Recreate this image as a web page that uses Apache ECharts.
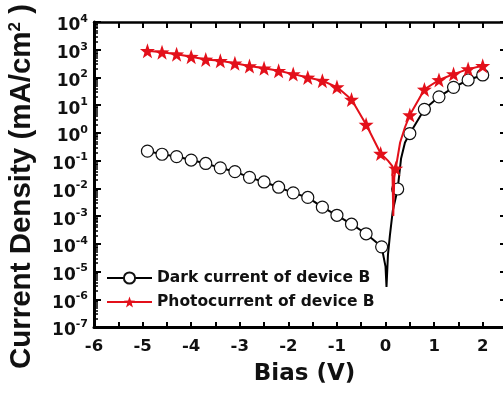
<!DOCTYPE html>
<html>
<head>
<meta charset="utf-8">
<script src="https://cdn.jsdelivr.net/npm/echarts@6/dist/echarts.min.js"></script>
<style>
  html, body { margin: 0; padding: 0; background: #fff; }
  #chart { width: 503px; height: 394px; }
</style>
</head>
<body>
<div id="chart"></div>
<script>
// dark current, marker points (V, mA/cm2)
var darkBias = [-4.9, -4.6, -4.3, -4.0, -3.7, -3.4, -3.1, -2.8, -2.5, -2.2, -1.9, -1.6,
  -1.3, -1.0, -0.7, -0.4, -0.08, 0.25, 0.5, 0.8, 1.1, 1.4, 1.7, 2.0];
var darkCurrent = [0.22, 0.17, 0.14, 0.105, 0.079, 0.055, 0.04, 0.025, 0.017, 0.011, 0.0069, 0.0047,
  0.0021, 0.00107, 0.00051, 0.00023, 0.000078, 0.0095, 0.95, 7.1, 20, 44, 81, 123];
// extra line points around the dip (no marker)
var darkDipBias = [0.0, 0.02, 0.05, 0.09, 0.15, 0.32, 0.4];
var darkDipCurrent = [0.000015, 0.0000028, 0.00004, 0.0002, 0.0016, 0.12, 0.45];

// photocurrent, marker points
var photoBias = [-4.9, -4.6, -4.3, -4.0, -3.7, -3.4, -3.1, -2.8, -2.5, -2.2, -1.9, -1.6,
  -1.3, -1.0, -0.7, -0.4, -0.1, 0.21, 0.5, 0.8, 1.1, 1.4, 1.7, 2.0];
var photoCurrent = [912, 813, 692, 562, 447, 398, 324, 257, 214, 174, 132, 100,
  76, 45, 16, 2.0, 0.18, 0.052, 4.4, 37, 81, 132, 200, 263];
var photoDipBias = [0.05, 0.14, 0.16, 0.18, 0.3, 0.4];
var photoDipCurrent = [0.1, 0.063, 0.001, 0.025, 0.45, 1.6];

var xTicks = [-6, -5, -4, -3, -2, -1, 0, 1, 2];

var RED = '#e3101a';
var STAR = 'path://M0,-10L2.35,-3.24L9.51,-3.09L3.8,1.24L5.88,8.09L0,4L-5.88,8.09L-3.8,1.24L-9.51,-3.09L-2.35,-3.24Z';

function buildLine(bias, vals, dipBias, dipVals) {
  var pts = [];
  bias.forEach(function (b, i) { pts.push({ value: [b, vals[i]] }); });
  dipBias.forEach(function (b, i) { pts.push({ value: [b, dipVals[i]], symbol: 'none' }); });
  pts.sort(function (a, b) { return a.value[0] - b.value[0]; });
  return pts;
}

// log minor tick positions (2..9 in every decade)
var minorVals = [];
for (var e = -7; e < 4; e++) {
  for (var k = 2; k <= 9; k++) minorVals.push(k * Math.pow(10, e));
}

var myChart = echarts.init(document.getElementById('chart'));

var option = {
  backgroundColor: '#fff',
  animation: false,
  grid: { left: 94, top: 22, right: -4, bottom: 67, outerBoundsMode: 'none', containLabel: false },
  legend: {
    orient: 'vertical',
    left: 101,
    top: 265,
    itemWidth: 45,
    itemHeight: 14,
    itemGap: 8,
    textStyle: { fontFamily: 'DejaVu Sans', fontWeight: 'bold', fontSize: 15.5, color: '#111' }
  },
  xAxis: [
    {
      type: 'value',
      position: 'bottom',
      min: -6,
      max: 2.5,
      interval: 1,
      name: 'Bias (V)',
      nameLocation: 'middle',
      nameGap: 36,
      nameTextStyle: {
        fontFamily: 'DejaVu Sans', fontWeight: 'bold', fontSize: 23, color: '#111',
        padding: [0, 0, 0, 8], verticalAlign: 'top'
      },
      axisLine: { onZero: false, lineStyle: { color: '#000', width: 3 } },
      axisTick: { inside: true, length: 5, lineStyle: { width: 2, color: '#000' } },
      minorTick: { show: true, splitNumber: 2, length: 5, lineStyle: { width: 2, color: '#000' } },
      splitLine: { show: false },
      axisLabel: {
        margin: 11,
        fontFamily: 'DejaVu Sans', fontWeight: 'bold', fontSize: 16.5, color: '#111',
        formatter: function (v) { return xTicks.indexOf(v) >= 0 ? String(v) : ''; }
      }
    },
    {
      type: 'value',
      position: 'top',
      min: -6,
      max: 2.5,
      interval: 1,
      axisLine: { onZero: false, lineStyle: { color: '#000', width: 2.5 } },
      axisTick: { inside: true, length: 6, lineStyle: { width: 2, color: '#000' } },
      minorTick: { show: true, splitNumber: 2, length: 6, lineStyle: { width: 2, color: '#000' } },
      splitLine: { show: false },
      axisLabel: { show: false }
    }
  ],
  yAxis: [
    {
      type: 'log',
      logBase: 10,
      position: 'left',
      min: 1e-7,
      max: 1e4,
      interval: 1,
      name: 'Current Density (mA/cm{s|2} )',
      nameLocation: 'middle',
      nameGap: 57,
      nameTextStyle: {
        fontFamily: 'Liberation Sans', fontWeight: 'bold', fontSize: 29.5, color: '#111',
        padding: [0, 24, 0, 0],
        rich: {
          s: { fontFamily: 'Liberation Sans', fontWeight: 'bold', fontSize: 17, color: '#111', verticalAlign: 'top' }
        }
      },
      axisLine: { onZero: false, lineStyle: { color: '#000', width: 3 } },
      axisTick: { inside: true, length: 7, lineStyle: { width: 2, color: '#000' } },
      splitLine: { show: false },
      axisLabel: {
        margin: 6,
        formatter: function (v) {
          var p = Math.round(Math.log(v) / Math.LN10);
          return '{b|10}{s|' + p + '}';
        },
        rich: {
          b: { fontFamily: 'DejaVu Sans', fontWeight: 'bold', fontSize: 17, color: '#111', lineHeight: 17, padding: [8, 0, 0, 0] },
          s: { fontFamily: 'DejaVu Sans', fontWeight: 'bold', fontSize: 11, color: '#111', lineHeight: 11, verticalAlign: 'top' }
        }
      }
    },
    {
      type: 'log',
      logBase: 10,
      position: 'right',
      min: 1e-7,
      max: 1e4,
      interval: 1,
      axisLine: { onZero: false, lineStyle: { color: '#000', width: 3 } },
      axisTick: { inside: true, length: 7, lineStyle: { width: 2, color: '#000' } },
      splitLine: { show: false },
      axisLabel: { show: false }
    },
    {
      type: 'log',
      logBase: 10,
      position: 'left',
      min: 1e-7,
      max: 1e4,
      axisLine: { show: false, onZero: false },
      axisTick: { inside: true, length: 4, customValues: minorVals, lineStyle: { width: 1.5, color: '#000' } },
      splitLine: { show: false },
      axisLabel: { show: false }
    }
  ],
  series: [
    {
      name: 'Dark current of device B',
      type: 'line',
      data: buildLine(darkBias, darkCurrent, darkDipBias, darkDipCurrent),
      symbol: 'circle',
      symbolSize: 12,
      lineStyle: { color: '#000', width: 2 },
      itemStyle: { color: '#fff', borderColor: '#111', borderWidth: 1.2 },
      z: 2
    },
    {
      name: 'Photocurrent of device B',
      type: 'line',
      data: buildLine(photoBias, photoCurrent, photoDipBias, photoDipCurrent),
      symbol: STAR,
      symbolSize: 15,
      lineStyle: { color: RED, width: 2 },
      itemStyle: { color: RED },
      z: 3
    }
  ]
};

option && myChart.setOption(option);
</script>
</body>
</html>
